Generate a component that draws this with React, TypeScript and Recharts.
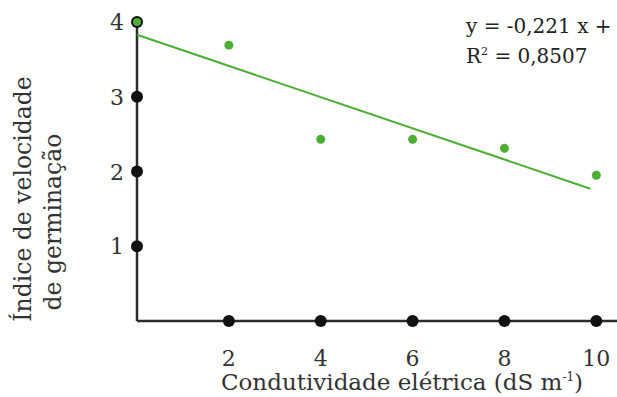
import React from 'react';
import { ScatterChart, Scatter, XAxis, YAxis } from 'recharts';

const xTicks = [2, 4, 6, 8, 10];
const yTicks = [1, 2, 3, 4];

const condutividade = [0, 2, 4, 6, 8, 10];
const ivg = [4.0, 3.69, 2.43, 2.43, 2.31, 1.95];

const trendX = [0, 9.87];
const trendY = [3.83, 1.77];

const points = condutividade.map((x, i) => ({ x, y: ivg[i] }));
const trend = trendX.map((x, i) => ({ x, y: trendY[i] }));

const FONT = '"DejaVu Serif", serif';
const AXIS = '#2b2b2b';
const GREEN = '#4caf33';

const XTick = (props: any) => {
  const { x, y, payload } = props;
  return (
    <g>
      <circle cx={x} cy={y} r={6} fill="#111" />
      <text x={x} y={y + 45} textAnchor="middle" fontFamily={FONT} fontSize={22} fill="#333">
        {payload.value}
      </text>
    </g>
  );
};

// tick dot on the y axis; a data point sitting on x=0 shows through as a green core
const YTick = (props: any) => {
  const { x, y, payload } = props;
  const onAxis = points.some((p) => p.x === 0 && p.y === payload.value);
  return (
    <g>
      <circle cx={x} cy={y} r={6} fill="#111" />
      {onAxis && <circle cx={x} cy={y} r={4} fill={GREEN} />}
      <text x={x - 13} y={y + 8} textAnchor="end" fontFamily={FONT} fontSize={22} fill="#333">
        {payload.value}
      </text>
    </g>
  );
};

const YLabel = () => (
  <g fontFamily={FONT} fontSize={23.5} fill="#333">
    <text transform="translate(31,199) rotate(-90)" textAnchor="middle">Índice de velocidade</text>
    <text transform="translate(61,222) rotate(-90)" textAnchor="middle">de germinação</text>
  </g>
);

const XLabel = () => (
  <text x={402} y={390} textAnchor="middle" fontFamily={FONT} fontSize={23} fill="#333">
    Condutividade elétrica (dS m<tspan dy={-9} fontSize={12}>-1</tspan>
    <tspan dy={9}>)</tspan>
  </text>
);

const GreenDot = (props: any) => <circle cx={props.cx} cy={props.cy} r={4.5} fill={GREEN} />;

export default function App() {
  return (
    <div style={{ position: 'absolute', left: 0, top: 0, width: 617, height: 397, background: '#fff' }}>
      <ScatterChart width={617} height={397} margin={{ top: 22, right: 0, left: 0, bottom: 0 }}>
        <XAxis
          type="number"
          dataKey="x"
          domain={[0, 10.45]}
          ticks={xTicks}
          height={76}
          tickLine={false}
          tickSize={0}
          tickMargin={0}
          axisLine={{ stroke: AXIS, strokeWidth: 2.5 }}
          tick={<XTick />}
          label={<XLabel />}
        />
        <YAxis
          type="number"
          dataKey="y"
          domain={[0, 4]}
          ticks={yTicks}
          width={137}
          tickLine={false}
          tickSize={0}
          tickMargin={0}
          axisLine={{ stroke: AXIS, strokeWidth: 2.5 }}
          tick={<YTick />}
          label={<YLabel />}
        />
        <Scatter
          data={trend}
          line={{ stroke: GREEN, strokeWidth: 2 }}
          shape={() => <g />}
          isAnimationActive={false}
        />
        <Scatter data={points} shape={<GreenDot />} isAnimationActive={false} />
      </ScatterChart>
      <div
        style={{
          position: 'absolute',
          left: 466,
          top: 11,
          fontFamily: FONT,
          fontSize: 20,
          lineHeight: '30px',
          color: '#222',
          whiteSpace: 'nowrap',
        }}
      >
        <div>y = -0,221 x +</div>
        <div>
          R<sup style={{ fontSize: 11, verticalAlign: 'top', lineHeight: '22px' }}>2</sup> = 0,8507
        </div>
      </div>
    </div>
  );
}
